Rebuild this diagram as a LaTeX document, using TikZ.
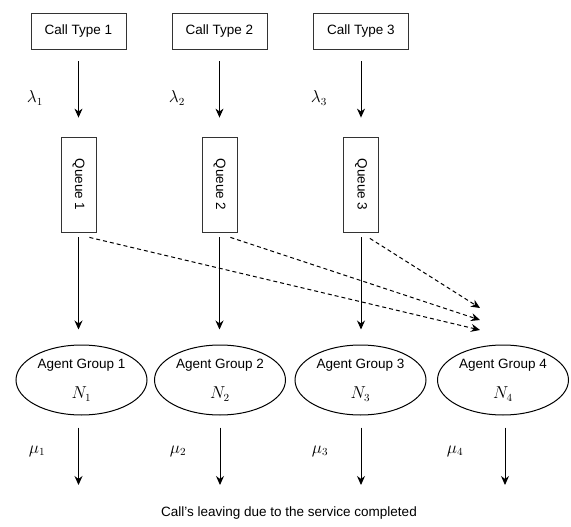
\documentclass[tikz,border=0pt]{standalone}
\usepackage{graphicx}
\usepackage{fontspec}
\setmainfont{Liberation Sans}
\usepackage{tikz}
\usetikzlibrary{positioning, arrows.meta, shapes.geometric}
\tikzset{calltype/.style={draw=black!80,line width=0.8pt,minimum width=95pt,minimum height=36pt,inner sep=0pt}}
\tikzset{queue/.style={draw=black!80,line width=0.8pt,minimum width=35pt,minimum height=95pt,inner sep=0pt}}
\tikzset{agent/.style={draw,ellipse,line width=1pt,minimum width=131pt,minimum height=70pt,inner sep=0pt,align=center}}
\tikzset{flow/.style={line width=1pt,-{Stealth[length=9pt,width=8pt]}}}
\tikzset{overflow/.style={flow,dash pattern=on 4pt off 3pt}}
\newcommand{\ratelbl}[1]{\scalebox{1.2}{$#1$}}

\begin{document}
\begin{tikzpicture}[x=1pt,y=-1pt,font=\fontsize{13.5}{16}\selectfont]
    \useasboundingbox (0,0) rectangle (571,527);

    %Call types
    \node [calltype] (c1) at (78.5,31) {Call Type 1};
    \node [calltype] (c2) at (219.5,31) {Call Type 2};
    \node [calltype] (c3) at (361,31) {Call Type 3};

    %Queues
    \node [queue] (q1) at (78.5,184.5) {\rotatebox{-90}{Queue 1}};
    \node [queue] (q2) at (219.5,184.5) {\rotatebox{-90}{Queue 2}};
    \node [queue] (q3) at (361,184.5) {\rotatebox{-90}{Queue 3}};

    %Agent groups
    \node [agent] (a1) at (81.5,380) {Agent Group 1\\[14pt]\ratelbl{N_1}};
    \node [agent] (a2) at (220,380) {Agent Group 2\\[14pt]\ratelbl{N_2}};
    \node [agent] (a3) at (360.5,380) {Agent Group 3\\[14pt]\ratelbl{N_3}};
    \node [agent] (a4) at (503,380) {Agent Group 4\\[14pt]\ratelbl{N_4}};

    %end points
    \coordinate (o1) at (78.5,485);
    \coordinate (o2) at (220,485);
    \coordinate (o3) at (361,485);
    \coordinate (o4) at (505,485);
    \coordinate (d1) at (480,330);
    \coordinate (d2) at (480,320);
    \coordinate (d3) at (480,308);

    %arrivals
    \draw [flow,shorten <=12pt,shorten >=19pt] (c1) -- (q1);
    \draw [flow,shorten <=12pt,shorten >=19pt] (c2) -- (q2);
    \draw [flow,shorten <=12pt,shorten >=19pt] (c3) -- (q3);
    \node (l1) at (35,98) {\ratelbl{\lambda_1}};
    \node (l2) at (177,98) {\ratelbl{\lambda_2}};
    \node (l3) at (319,98) {\ratelbl{\lambda_3}};

    %queue to own group
    \draw [flow,shorten <=5pt,shorten >=15pt] (q1) -- (q1 |- a1.north);
    \draw [flow,shorten <=5pt,shorten >=15pt] (q2) -- (q2 |- a2.north);
    \draw [flow,shorten <=5pt,shorten >=15pt] (q3) -- (q3 |- a3.north);

    %overflow to group 4
    \draw [overflow] ([shift={(-7,5)}]q1.south east) -- (d1);
    \draw [overflow] ([shift={(-7,5)}]q2.south east) -- (d2);
    \draw [overflow] ([shift={(-9,6)}]q3.south east) -- (d3);

    %service completions
    \draw [flow,shorten <=12pt] (o1 |- a1.south) -- (o1);
    \draw [flow,shorten <=12pt] (o2 |- a2.south) -- (o2);
    \draw [flow,shorten <=12pt] (o3 |- a3.south) -- (o3);
    \draw [flow,shorten <=12pt] (o4 |- a4.south) -- (o4);
    \node (m1) at (37,451) {\ratelbl{\mu_1}};
    \node (m2) at (178,451) {\ratelbl{\mu_2}};
    \node (m3) at (320,451) {\ratelbl{\mu_3}};
    \node (m4) at (455,451) {\ratelbl{\mu_4}};

    \node (leave) at (289,513) {Call's leaving due to the service completed};
\end{tikzpicture}
\end{document}
